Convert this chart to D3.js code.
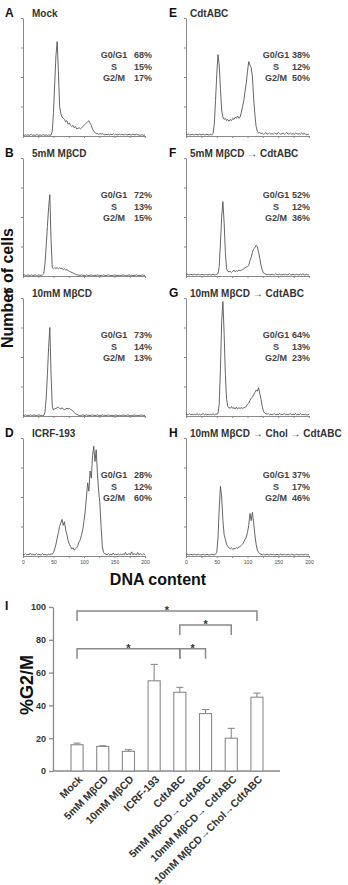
<!DOCTYPE html>
<html>
<head>
<meta charset="UTF-8">
<script src="https://d3js.org/d3.v7.min.js"></script>
<style>
  body { margin: 0; background: #fff; }
  text { font-family: "Liberation Sans", Arial, sans-serif; }
</style>
</head>
<body>
<script>
// ---- histogram panels A-H ----
var panelLetters = ["A", "B", "C", "D", "E", "F", "G", "H"];
var panelTitles = ["Mock", "5mM MβCD", "10mM MβCD", "ICRF-193",
    "CdtABC", "5mM MβCD → CdtABC", "10mM MβCD → CdtABC", "10mM MβCD → Chol → CdtABC"];
var statG1 = [68, 72, 73, 28, 38, 52, 64, 37];
var statS = [15, 13, 14, 12, 12, 12, 13, 17];
var statG2 = [17, 15, 13, 60, 50, 36, 23, 46];
var dnaTicks = [0, 25, 50, 75, 100, 125, 150, 175, 200];
var dnaLabels = [0, 50, 100, 150, 200];

// cell counts in % of axis height, one value per bin of 2 (DNA content 0..200)
var histMock = [1, .5, 1, .5, 1, .5, 1, 1.5, .5, 1,
    .5, 1, 1, .5, 1, .5, 1, 1, .5, 1,
    .5, 1, .5, 1, 4, 20, 45, 68, 80, 55,
    25, 19, 16, 15, 14, 12, 13, 10, 11, 9,
    8, 9, 7, 8, 6, 6.5, 7, 6, 7, 8,
    9, 10, 11, 12, 13, 11, 9, 6, 4, 3,
    2, 2, 1.5, 2, 1.5, 2, 1.5, 1, 1.5, 1,
    1.5, 1, 1.5, 1, 2, 1, 1.5, 1, 1, 1.5,
    1, 1.5, 1, 1, 1.5, 1, 1, 1.5, 1, 1,
    1.5, 1, 1, 1.5, 1, 1, .5, 1, 1, .5, 1];
var hist5mM = [.5, 1, .5, .5, 1, .5, .5, 1, .5, .5,
    1, .5, .5, 1, .5, .5, 1, 2, 10, 25,
    42, 58, 69, 30, 7, 6, 7, 6.5, 7, 6,
    7, 6, 6.5, 5.5, 6, 5, 5.5, 4.5, 4, 3.5,
    3, 2.5, 2, 1.5, 1, 1, .5, .5, 1, .5,
    .5, .5, 1, .5, .5, .5, 1, .5, .5, .5,
    .5, 1, .5, .5, .5, .5, 1, .5, .5, .5,
    1, .5, .5, .5, .5, 1, .5, .5, .5, .5,
    .5, .5, 1, .5, .5, .5, .5, 1, .5, .5,
    .5, .5, .5, 1, .5, .5, .5, .5, 1, .5, .5];
var hist10mM = [.5, .5, 1, .5, .5, .5, 1, .5, .5, 1,
    .5, .5, .5, 1, .5, .5, .5, .5, 3, 15,
    35, 58, 75, 35, 8, 5, 6, 6.5, 7, 7.5,
    6.5, 6, 7, 6, 5.5, 6, 6.5, 6, 6.5, 5.5,
    5, 4, 3, 2, 1.5, 1, .5, .5, .5, 1,
    .5, .5, 1, .5, .5, .5, .5, 1, .5, .5,
    .5, 1, .5, .5, .5, 1, .5, .5, .5, .5,
    1, .5, .5, .5, .5, .5, 1, .5, .5, .5,
    .5, .5, 1, .5, .5, .5, 1, .5, .5, .5,
    .5, 1, .5, .5, .5, .5, .5, 1, .5, .5, .5];
var histICRF = [1.5, 1, 2, 1, 1.5, 1, 2.5, 1, 1.5, 1,
    1, 2, 1, 1.5, 1, 1, 2, 1, 1.5, 1,
    1, 1.5, 1, 2, 1.5, 3, 6, 10, 15, 20,
    25, 28, 31, 26, 29, 22, 18, 13, 10, 8,
    6, 7, 5, 6, 7, 9, 12, 14, 18, 22,
    30, 38, 50, 62, 55, 72, 66, 85, 93, 80,
    90, 70, 55, 45, 25, 8, 3, 2, 1.5, 1,
    2, 1, 1.5, 1, 2.5, 1, 1.5, 1, 2, 1,
    1.5, 1, 2, 1, 3, 1, 1.5, 2, 1, 3.5,
    1, 2, 1.5, 1, 3, 1, 2, 1.5, 1, 2, 1];
var histCdt = [1.5, 1, 1.5, 1, 1, 1.5, 1, 1, 1.5, 1,
    1, 1.5, 1, 1, 1.5, 1, 1, 1.5, 1, 1,
    1.5, 1, 2, 10, 30, 52, 69, 60, 40, 22,
    16, 14, 15, 13, 14, 12.5, 14, 13, 15, 14,
    16, 15, 17, 15, 16, 20, 25, 30, 38, 45,
    55, 63, 60, 58, 50, 32, 18, 8, 4, 2.5,
    3, 2, 2.5, 1.5, 2, 3, 1.5, 2, 2.5, 1.5,
    2, 1.5, 2.5, 2, 1.5, 3, 2, 1.5, 2, 2.5,
    1.5, 2, 3, 1.5, 2, 2.5, 1.5, 2, 1.5, 2.5,
    2, 1.5, 2, 1.5, 2.5, 1.5, 2, 1.5, 1, 1.5, 1.5];
var hist5mMCdt = [1, 1.5, 1, 1, 1.5, 1, 1, 1.5, 1, 1,
    1.5, 1, 1, 1.5, 1, 1, 1.5, 1, 1, 1.5,
    1, 1, 1.5, 1, 1, 1.5, 2, 8, 28, 50,
    63, 45, 20, 6, 4, 3.5, 4, 3, 4, 5,
    3.5, 4.5, 4, 5, 4.5, 5, 5.5, 6, 7, 7.5,
    8, 9, 13, 16, 20, 23, 24, 26, 25, 20,
    15, 9, 5, 2.5, 2, 1.5, 1, 1.5, 1, 1,
    1.5, 1, 1, 2, 1, 1, 1.5, 1, 1, 1.5,
    1, 1.5, 1, 1, 2, 1, 1, 1.5, 1, 1,
    1.5, 1, 1, 1.5, 1, 2, 1, 1, 1.5, 1, 1];
var hist10mMCdt = [1.5, 1, 1.5, 2, 1, 1.5, 1, 1.5, 1, 2,
    1, 1.5, 1, 1.5, 2, 1, 1.5, 1, 1.5, 1,
    1.5, 1, 2, 1, 1.5, 1.5, 2, 10, 40, 80,
    97, 70, 35, 14, 8, 7, 6.5, 8, 6.5, 7,
    6, 7.5, 6, 7, 6.5, 7, 6.5, 7, 7.5, 8,
    10, 11, 13, 15, 16, 18, 20, 22, 21, 24,
    19, 14, 8, 4, 2.5, 2, 1.5, 2, 1, 1.5,
    1, 1.5, 2, 1, 1.5, 1, 2, 1.5, 1, 1.5,
    2, 1, 1.5, 1, 1.5, 2, 1, 1.5, 1, 2,
    1, 1.5, 1, 2, 1, 1.5, 1, 1.5, 1, 1, 1.5];
var histChol = [1, 1.5, 1, 1, 1.5, 1, 1, 1.5, 1, 1,
    1.5, 1, 1, 1, 1.5, 1, 1, 1.5, 1, 1,
    1, 1.5, 1, 1, 1.5, 3, 15, 40, 59, 50,
    30, 18, 14, 10, 8, 7, 6, 7, 5.5, 6.5,
    6, 7, 6.5, 7.5, 8, 9, 10, 12, 14, 16,
    20, 26, 36, 30, 37, 28, 18, 10, 5, 3,
    2, 1.5, 1, 1.5, 1, 1, 1.5, 1, 1, 1.5,
    1, 1.5, 1, 1, 1.5, 1, 1, 1.5, 1, 1,
    1.5, 1, 1, 1.5, 1, 1, 1.5, 1, 1, 1,
    1.5, 1, 1, 1, 1.5, 1, 1, 1.5, 1, 1, 1];
var histograms = [histMock, hist5mM, hist10mM, histICRF, histCdt, hist5mMCdt, hist10mMCdt, histChol];

// ---- bar chart I ----
var barLabels = ["Mock", "5mM MβCD", "10mM MβCD", "ICRF-193", "CdtABC",
    "5mM MβCD→ CdtABC", "10mM MβCD→ CdtABC", "10mM MβCD→Chol→CdtABC"];
var barMeans = [16, 15, 12, 55, 48, 35, 20, 45];
var barErrors = [1, 0.4, 1, 10, 3, 2.5, 6, 2.5];
var barTicks = [0, 20, 40, 60, 80, 100];
var sigFrom = [0, 4, 0, 4];
var sigTo = [7, 6, 4, 5];
var sigLevel = [97.5, 89, 74.5, 74.5];

var W = 348, H = 885;
var svg = d3.select("body").append("svg")
    .attr("width", W).attr("height", H);

var axisCol = "#8a8a8a", lineCol = "#555", textCol = "#333";
var colX = [[23, 145], [186, 309]];
var valEnd = [129, 124], labMid = [91, 90];
var panelH = 118;

histograms.forEach(function (vals, i) {
    var col = i < 4 ? 0 : 1, row = i % 4;
    var base = 136 + row * 140;
    var x = d3.scaleLinear().domain([0, 200]).range(colX[col]);
    var y = d3.scaleLinear().domain([0, 100]).range([base, base - panelH]);
    var g = svg.append("g");

    // axes
    var xa = g.append("g").attr("transform", "translate(0," + base + ")")
        .call(d3.axisBottom(x).tickValues(dnaTicks).tickSize(2).tickSizeOuter(0)
            .tickFormat(function (d) { return (row == 3 && dnaLabels.indexOf(d) >= 0) ? d : ""; }));
    xa.selectAll("text").attr("font-size", 5).attr("fill", "#444").attr("dy", "0.6em");
    var ya = g.append("g").attr("transform", "translate(" + colX[col][0] + ",0)")
        .call(d3.axisLeft(y).tickValues([25, 50, 75, 100]).tickSize(2).tickSizeOuter(0).tickFormat(""));
    g.selectAll(".domain, .tick line").attr("stroke", axisCol);

    // histogram trace
    g.append("path")
        .datum(vals)
        .attr("fill", "none")
        .attr("stroke", lineCol)
        .attr("stroke-width", 0.9)
        .attr("d", d3.line().x(function (d, j) { return x(j * 2); }).y(function (d) { return y(d); }));

    // letter and title
    g.append("text").attr("x", col ? 169 : 5).attr("y", base - panelH - 1)
        .attr("font-size", 12).attr("font-weight", "bold").attr("fill", "#111")
        .text(panelLetters[i]);
    g.append("text").attr("x", col ? 190 : 32).attr("y", base - panelH - 1)
        .attr("font-size", 10).attr("font-weight", "bold").attr("fill", textCol)
        .text(panelTitles[i]);

    // phase percentages
    var rows = [["G0/G1", statG1[i]], ["S", statS[i]], ["G2/M", statG2[i]]];
    rows.forEach(function (r, k) {
        var ty = base - 78 + k * 11.5;
        g.append("text").attr("x", colX[col][0] + labMid[col]).attr("y", ty)
            .attr("text-anchor", "middle").attr("font-size", 9).attr("font-weight", "bold")
            .attr("fill", "#444").text(r[0]);
        g.append("text").attr("x", colX[col][0] + valEnd[col]).attr("y", ty)
            .attr("text-anchor", "end").attr("font-size", 9).attr("font-weight", "bold")
            .attr("fill", "#444").text(r[1] + "%");
    });
});

// shared axis titles
svg.append("text").attr("transform", "translate(13,288) rotate(-90)")
    .attr("text-anchor", "middle").attr("font-size", 16).attr("font-weight", "bold")
    .attr("fill", "#111").text("Number of cells");
svg.append("text").attr("x", 158).attr("y", 585)
    .attr("text-anchor", "middle").attr("font-size", 16).attr("font-weight", "bold")
    .attr("fill", "#111").text("DNA content");

// ---- bar chart ----
var by = d3.scaleLinear().domain([0, 100]).range([771, 607]);
var bx = d3.scaleBand().domain(barLabels).range([64.2, 269.8])
    .paddingInner(0.53).paddingOuter(0.265);
var bg = svg.append("g");

bg.append("text").attr("x", 5).attr("y", 610)
    .attr("font-size", 12).attr("font-weight", "bold").attr("fill", "#111").text("I");

var yAx = bg.append("g").attr("transform", "translate(53,0)")
    .call(d3.axisLeft(by).tickValues(barTicks).tickSize(4).tickSizeOuter(0));
yAx.selectAll("text").attr("font-size", 9).attr("font-weight", "bold").attr("fill", textCol);
bg.append("line").attr("x1", 53).attr("x2", 280).attr("y1", by(0)).attr("y2", by(0));
bg.selectAll(".domain, .tick line, line").attr("stroke", axisCol).attr("stroke-width", 1.3);

// error bars (upper only)
barLabels.forEach(function (lab, i) {
    var cx = bx(lab) + bx.bandwidth() / 2;
    bg.append("line").attr("x1", cx).attr("x2", cx)
        .attr("y1", by(barMeans[i])).attr("y2", by(barMeans[i] + barErrors[i]))
        .attr("stroke", axisCol).attr("stroke-width", 1.1);
    bg.append("line").attr("x1", cx - 3.5).attr("x2", cx + 3.5)
        .attr("y1", by(barMeans[i] + barErrors[i])).attr("y2", by(barMeans[i] + barErrors[i]))
        .attr("stroke", axisCol).attr("stroke-width", 1.1);
});

bg.selectAll(".bar").data(barLabels).enter().append("rect")
    .attr("x", function (d) { return bx(d); })
    .attr("y", function (d, i) { return by(barMeans[i]); })
    .attr("width", bx.bandwidth())
    .attr("height", function (d, i) { return by(0) - by(barMeans[i]); })
    .attr("fill", "#fff").attr("stroke", axisCol).attr("stroke-width", 1.1);

// rotated category labels
bg.selectAll(".xlab").data(barLabels).enter().append("text")
    .attr("transform", function (d) {
        var cx = bx(d) + bx.bandwidth() / 2;
        return "translate(" + (cx + 6) + "," + (by(0) + 9) + ") rotate(-45)";
    })
    .attr("text-anchor", "end").attr("font-size", 10.5).attr("font-weight", "bold")
    .attr("fill", textCol).text(function (d) { return d; });

// y title
svg.append("text").attr("transform", "translate(33,685) rotate(-90)")
    .attr("text-anchor", "middle").attr("font-size", 18).attr("font-weight", "bold")
    .attr("fill", "#111").text("%G2/M");

// significance brackets
sigFrom.forEach(function (a, k) {
    var x1 = bx(barLabels[a]) + bx.bandwidth() / 2;
    var x2 = bx(barLabels[sigTo[k]]) + bx.bandwidth() / 2;
    var top = by(sigLevel[k]), low = by(sigLevel[k] - 6);
    bg.append("path")
        .attr("d", "M" + x1 + "," + low + "V" + top + "H" + x2 + "V" + low)
        .attr("fill", "none").attr("stroke", axisCol).attr("stroke-width", 1.5);
    bg.append("text").attr("x", (x1 + x2) / 2).attr("y", top + 3)
        .attr("text-anchor", "middle").attr("font-size", 11).attr("font-weight", "bold")
        .attr("fill", textCol).text("*");
});
</script>
</body>
</html>
